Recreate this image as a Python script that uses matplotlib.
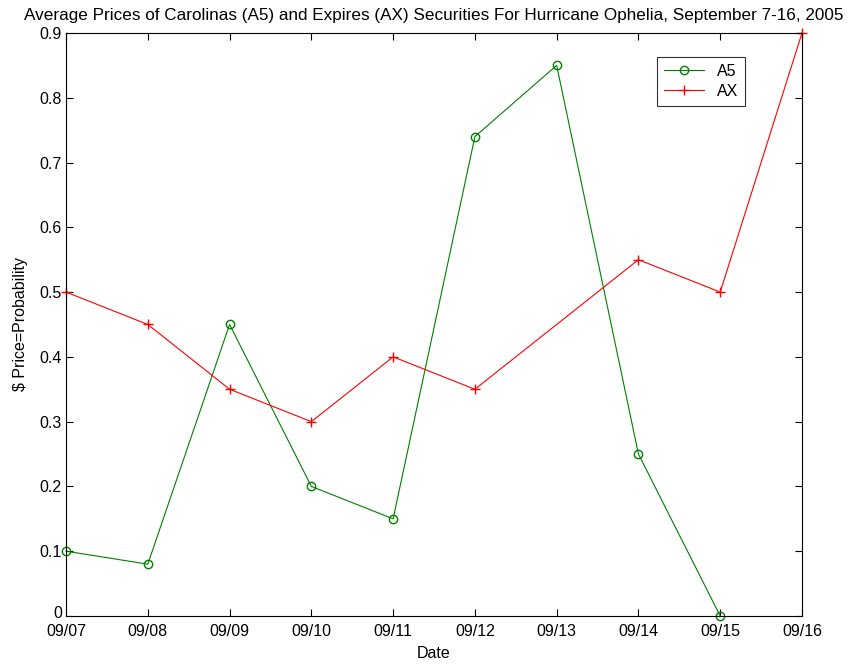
import matplotlib.pyplot as plt
import matplotlib.transforms as mtransforms

plt.rcParams['font.family'] = ['Liberation Sans', 'DejaVu Sans']

dates = ['09/07', '09/08', '09/09', '09/10', '09/11', '09/12', '09/13', '09/14', '09/15', '09/16']

# A5 has no value on 09/16, AX has none on 09/13
a5_days = ['09/07', '09/08', '09/09', '09/10', '09/11', '09/12', '09/13', '09/14', '09/15']
a5_price = [0.10, 0.08, 0.45, 0.20, 0.15, 0.74, 0.85, 0.25, 0.0]
ax_days = ['09/07', '09/08', '09/09', '09/10', '09/11', '09/12', '09/14', '09/15', '09/16']
ax_price = [0.50, 0.45, 0.35, 0.30, 0.40, 0.35, 0.55, 0.50, 0.90]

a5_x = [dates.index(d) for d in a5_days]
ax_x = [dates.index(d) for d in ax_days]

fig = plt.figure(figsize=(8.51, 6.66), dpi=100)
ax = fig.add_axes([0.0776, 0.0751, 0.8648, 0.8754])

ax.plot(a5_x, a5_price, color='#008000', marker='o', markersize=6, markerfacecolor='none',
        linewidth=0.8, label='A5', clip_on=False)
ax.plot(ax_x, ax_price, color='red', marker='+', markersize=7, linewidth=0.8,
        label='AX', clip_on=False)

ax.set_xlim(0, len(dates) - 1)
ax.set_ylim(0, 0.9)
ax.set_xticks(range(len(dates)))
ax.set_xticklabels(dates)
ax.set_yticks([0, 0.1, 0.2, 0.3, 0.4, 0.5, 0.6, 0.7, 0.8, 0.9])
ax.set_yticklabels(['0', '0.1', '0.2', '0.3', '0.4', '0.5', '0.6', '0.7', '0.8', '0.9'])
ax.tick_params(direction='in', top=True, right=True, labelsize=11.5, length=5, pad=3)
ax.tick_params(axis='x', pad=6)

# nudge the "0" label up a little so it sits just above "09/07"
zero_lbl = ax.get_yticklabels()[0]
zero_lbl.set_transform(zero_lbl.get_transform() +
                       mtransforms.ScaledTranslation(0, 3 / 72, fig.dpi_scale_trans))

ax.set_xlabel('Date', fontsize=11.5, labelpad=5)
ax.set_ylabel('$ Price=Probability', fontsize=11.5, labelpad=8)
ax.set_title('Average Prices of Carolinas (A5) and Expires (AX) Securities For Hurricane Ophelia, September 7-16, 2005',
             fontsize=12.3, pad=9)

leg = ax.legend(loc='upper left', bbox_to_anchor=(0.803, 0.959), fancybox=False,
                edgecolor='black', fontsize=11.5, handlelength=2.5, borderpad=0.45,
                labelspacing=0.3, borderaxespad=0)
leg.get_frame().set_linewidth(0.8)

fig.savefig('out.png')
